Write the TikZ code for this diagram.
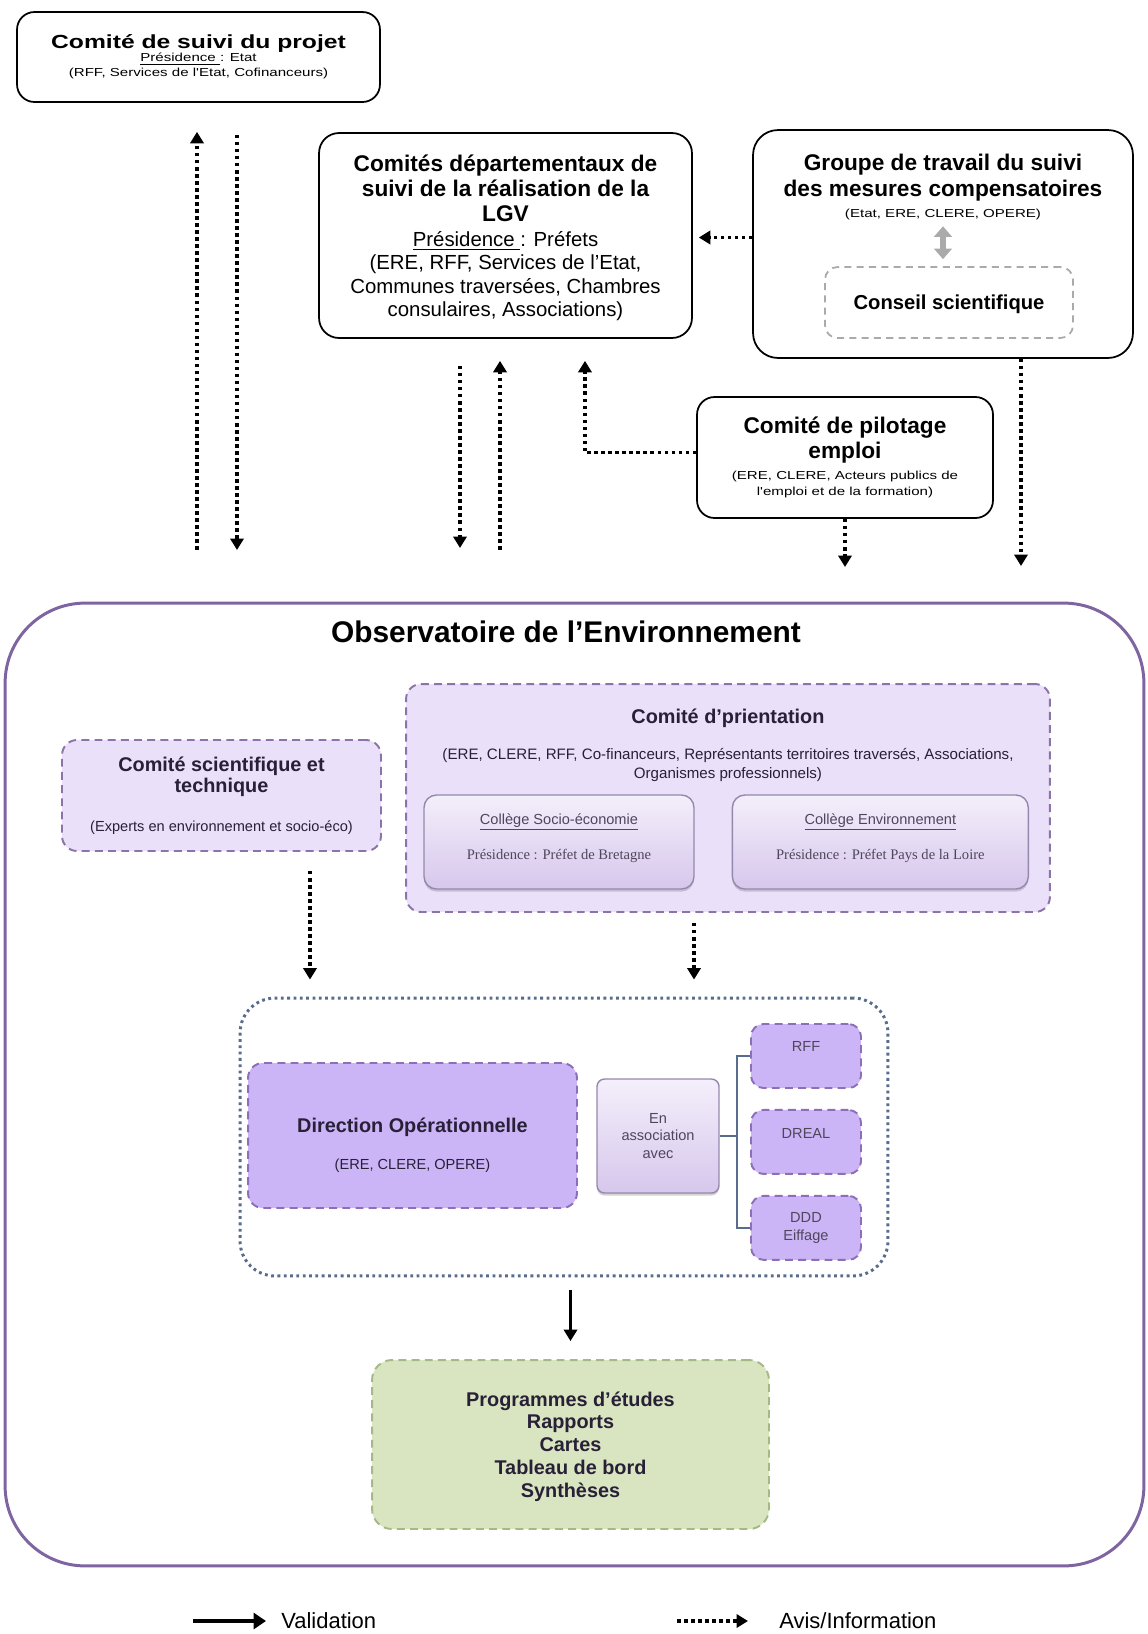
\documentclass[tikz,border=0pt]{standalone}
\usepackage{fontspec}
\setmainfont{Liberation Sans}
\newfontfamily\narrowsmall[FakeStretch=1.3]{Liberation Sans}
\newfontfamily\serifface{Liberation Serif}
\usetikzlibrary{arrows.meta,positioning,shadows}

\definecolor{obsline}{RGB}{126,100,160}
\definecolor{lilac}{RGB}{234,224,250}
\definecolor{lilacline}{RGB}{140,115,170}
\definecolor{dirfill}{RGB}{204,181,246}
\definecolor{dirline}{RGB}{140,110,185}
\definecolor{collegetop}{RGB}{244,239,251}
\definecolor{collegebot}{RGB}{214,199,236}
\definecolor{collegeline}{RGB}{150,135,172}
\definecolor{frameline}{RGB}{88,108,140}
\definecolor{greenfill}{RGB}{217,229,193}
\definecolor{greenline}{RGB}{165,185,135}
\definecolor{softgray}{RGB}{170,170,170}
\definecolor{textdark}{RGB}{40,32,55}
\definecolor{textsoft}{RGB}{80,70,92}

\newcommand\boxhead{\fontsize{12.9}{12.9}\selectfont\bfseries}
\newcommand\boxtiny{\narrowsmall\fontsize{6.6}{7.5}\selectfont}
\newcommand\obshead{\fontsize{11.3}{12}\selectfont\bfseries}
\newcommand\obssmall{\fontsize{8.3}{10}\selectfont}
\normallineskiplimit=-100pt

\tikzset{
  comite/.style={draw, line width=1pt, rounded corners=0.35cm, align=center, inner sep=2pt},
  conseil/.style={draw=softgray, line width=1pt, dash pattern=on 4pt off 3pt, rounded corners=0.25cm, align=center},
  obs/.style={draw=obsline, line width=1.7pt, rounded corners=1.6cm},
  lilacbox/.style={draw=lilacline, fill=lilac, line width=1.1pt, dash pattern=on 4.5pt off 3pt, rounded corners=0.3cm, align=center, text=textdark},
  dirbox/.style={lilacbox, fill=dirfill, draw=dirline},
  smallbox/.style={dirbox, minimum width=2.2cm, minimum height=1.28cm, font=\obssmall, text=textsoft, rounded corners=0.25cm},
  college/.style={draw=collegeline, line width=0.8pt, rounded corners=0.25cm, top color=collegetop, bottom color=collegebot, drop shadow={shadow xshift=0pt, shadow yshift=-1.5pt, opacity=0.35}, align=center, text=textsoft},
  dotframe/.style={draw=frameline, line width=1.7pt, dash pattern=on 1.6pt off 2pt, rounded corners=0.7cm},
  result/.style={draw=greenline, fill=greenfill, line width=1.1pt, dash pattern=on 4.5pt off 3pt, rounded corners=0.4cm, align=center, text=textdark},
  bracket/.style={draw=frameline, line width=0.9pt},
  avis/.style={line width=2pt, dash pattern=on 2pt off 2pt, -{Triangle[width=7.5pt,length=6.5pt]}},
  valid/.style={line width=1.8pt, -{Triangle[width=7.5pt,length=6.5pt]}},
}

\begin{document}
\begin{tikzpicture}[x=0.02cm, y=-0.02cm]
  \useasboundingbox (0,0) rectangle (1147,1634);

  % committees above the observatory
  \node[comite, minimum width=7.26cm, minimum height=1.8cm, font=\boxtiny] (suivi) at (198.5,57)
    {{\fontsize{10.8}{11}\selectfont\bfseries Comité de suivi du projet}\\
     \underline{Présidence\ }: Etat\\[1pt]
     (RFF, Services de l'Etat, Cofinanceurs)};
  \node[comite, minimum width=7.46cm, minimum height=4.1cm, font=\fontsize{11.6}{13.3}\selectfont, rounded corners=0.4cm, text depth=-1.5pt] (depts) at (505.5,235.5)
    {{\boxhead Comités départementaux de}\\[1pt]
     {\boxhead suivi de la réalisation de la}\\[1pt]
     {\boxhead LGV}\\[1pt]
     \underline{Présidence\ }: Préfets\\
     (ERE, RFF, Services de l'Etat,\\
     Communes traversées, Chambres\\
     consulaires, Associations)};
  \node[comite, minimum width=7.6cm, minimum height=4.56cm, rounded corners=0.5cm] (groupe) at (943,244) {};
  \node[align=center, inner sep=0pt, font=\fontsize{11.3}{15}\selectfont] (grptitle) at (943,187)
    {{\boxhead Groupe de travail du suivi}\\
     {\boxhead des mesures compensatoires}\\[-3.2pt]
     {\boxtiny (Etat, ERE, CLERE, OPERE)}};
  \node[conseil, minimum width=4.96cm, minimum height=1.42cm, font=\fontsize{11.5}{12}\selectfont\bfseries, text depth=-4.6pt] (conseil) at (949,302.5)
    {Conseil scientifique};
  \node[comite, minimum width=5.92cm, minimum height=2.42cm, font=\fontsize{11.3}{14}\selectfont] (emploi) at (845,457.5)
    {{\boxhead Comité de pilotage}\\
     {\boxhead emploi}\\[-1.6pt]
     {\boxtiny (ERE, CLERE, Acteurs publics de}\\[-5.1pt]
     {\boxtiny l'emploi et de la formation)}};

  \draw[{Triangle[width=10pt,length=6pt]}-{Triangle[width=10pt,length=6pt]}, softgray, line width=3pt, shorten <=0.12cm, shorten >=0.14cm]
    (grptitle.south) -- (grptitle.south |- conseil.north);

  % links between the committees
  \coordinate (suiviup) at (197,550);
  \coordinate (suividn) at (237,550);
  \draw[avis, shorten >=0.58cm] (suiviup) -- (suiviup |- suivi.south);
  \draw[avis, shorten <=0.64cm] (suividn |- suivi.south) -- (suividn);
  \coordinate (deptsdn) at (460,548);
  \coordinate (deptsup) at (500,550);
  \draw[avis, shorten <=0.54cm] (deptsdn |- depts.south) -- (deptsdn);
  \draw[avis, shorten >=0.44cm] (deptsup) -- (deptsup |- depts.south);
  \draw[avis, shorten >=0.44cm] ([yshift=0.1cm]emploi.west) -| ([xshift=1.59cm]depts.south);
  \draw[avis, shorten >=0.12cm] ([yshift=0.13cm]groupe.west) -- ([yshift=0.13cm]groupe.west -| depts.east);
  \coordinate (emploidn) at (845,567);
  \coordinate (groupedn) at (1021,566);
  \draw[avis] (emploi.south) -- (emploidn);
  \draw[avis] (groupedn |- groupe.south) -- (groupedn);

  % observatory
  \node[obs, minimum width=22.78cm, minimum height=19.26cm] (obs) at (574.5,1084.5) {};
  \node[font=\fontsize{17}{17}\selectfont\bfseries] (obstitle) at (566,632) {Observatoire de l'Environnement};

  \node[lilacbox, minimum width=6.38cm, minimum height=2.22cm, font=\fontsize{8.3}{12}\selectfont] (cst) at (221.5,795.5)
    {{\obshead Comité scientifique et}\\
     {\obshead technique}\\[10pt]
     (Experts en environnement et socio-éco)};
  \node[lilacbox, minimum width=12.88cm, minimum height=4.56cm] (orient) at (728,798) {};
  \node[align=center, inner sep=0pt, text=textdark, font=\fontsize{8.6}{10.8}\selectfont] (orienttxt) at (728,745)
    {{\obshead Comité d'prientation}\\[9.6pt]
     (ERE, CLERE, RFF, Co-financeurs, Représentants territoires traversés, Associations,\\
     Organismes professionnels)};
  \node[college, minimum width=5.4cm, minimum height=1.88cm, font=\obssmall, text depth=6.6pt] (socio) at (559,842)
    {\underline{Collège Socio-économie}\\[10pt]
     {\serifface Présidence : Préfet de Bretagne}};
  \node[college, minimum width=5.92cm, minimum height=1.88cm, font=\obssmall, text depth=6.6pt, right=0.74cm of socio] (envir)
    {\underline{Collège Environnement}\\[10pt]
     {\serifface Présidence : Préfet Pays de la Loire}};

  % operational team
  \node[dotframe, minimum width=12.96cm, minimum height=5.56cm] (dirframe) at (564,1137) {};
  \node[dirbox, minimum width=6.58cm, minimum height=2.9cm] (direction) at (412.5,1135.5) {};
  \node[align=center, inner sep=0pt, text=textdark, font=\fontsize{8.3}{10.5}\selectfont] (dirtxt) at (412.5,1145)
    {{\obshead Direction Opérationnelle}\\[10.5pt]
     (ERE, CLERE, OPERE)};
  \node[college, minimum width=2.44cm, minimum height=2.28cm, font=\obssmall, rounded corners=0.15cm] (assoc) at (658,1136)
    {En\\association\\avec};
  \node[smallbox, text depth=11pt] (rff) at (806,1056) {RFF};
  \node[smallbox, text depth=10pt, below=0.4cm of rff] (dreal) {DREAL};
  \node[smallbox, below=0.4cm of dreal] (ddd) {DDD\\Eiffage};
  \coordinate (brk) at (737,1136);
  \draw[bracket] (assoc.east) -- (brk);
  \draw[bracket] (rff.west) -| (brk);
  \draw[bracket] (ddd.west) -| (brk);

  \draw[avis, shorten <=0.38cm, shorten >=0.34cm] ([xshift=1.77cm]cst.south) -- ([xshift=1.77cm]cst.south |- dirframe.north);
  \draw[avis, shorten <=0.2cm, shorten >=0.34cm] ([xshift=-0.68cm]orient.south) -- ([xshift=-0.68cm]orient.south |- dirframe.north);

  % outputs
  \node[result, minimum width=7.94cm, minimum height=3.38cm, font=\fontsize{11.3}{13}\selectfont\bfseries, text depth=-2.8pt] (result) at (570.5,1444.5)
    {Programmes d'études\\Rapports\\Cartes\\Tableau de bord\\Synthèses};
  \draw[valid, shorten <=0.26cm, shorten >=0.36cm] (dirframe.south -| result.north) -- (result.north);

  % legend
  \coordinate (legv) at (193,1621);
  \coordinate (lega) at (677,1621);
  \node[anchor=west, inner sep=0pt, font=\fontsize{12.5}{12.5}\selectfont] (legvtxt) at (281,1621) {Validation};
  \node[anchor=west, inner sep=0pt, font=\fontsize{12.5}{12.5}\selectfont] (legatxt) at (779,1621) {Avis/Information};
  \draw[line width=2.8pt, -{Triangle[width=9pt,length=7pt]}, shorten >=0.3cm] (legv) -- (legvtxt.west);
  \draw[avis, shorten >=0.62cm] (lega) -- (legatxt.west);
\end{tikzpicture}
\end{document}
